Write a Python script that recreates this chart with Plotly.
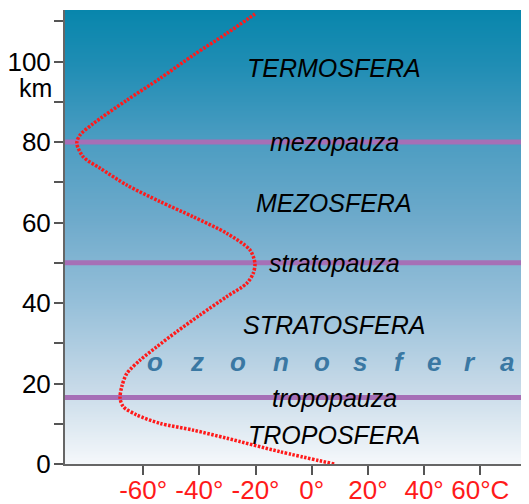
import plotly.graph_objects as go
import numpy as np

# Temperature profile (deg C) vs altitude (km)
temp_c = [8, -11.3, -30.2, -42.1, -54, -62.3, -67, -68.2, -67.6, -65.8, -61.1, -55.2, -48,
          -39.8, -30.2, -23.1, -20.8, -20.2, -22, -30.2, -42.1, -54, -65.8, -75.3, -81.3, -83.6,
          -82.5, -77.7, -65.8, -54, -42.1, -30.2, -20.2]
alt_km = [0, 3.06, 6.4, 8.4, 10.1, 12.2, 14.2, 16.3, 19.2, 22.5, 25.8, 29.1, 32.9,
          37.0, 41.6, 44.9, 47.4, 49.9, 53.2, 57.3, 61.4, 65.2, 69.3, 73.5, 76.3, 79.7,
          81.7, 84.6, 90.4, 95.8, 101.6, 107, 111.8]

# Boundaries (pauses)
pause_names = ["tropopauza", "stratopauza", "mezopauza"]
pause_km = [16.5, 50, 80]

# Layers
layer_names = ["TROPOSFERA", "STRATOSFERA", "MEZOSFERA", "TERMOSFERA"]
layer_km = [7.2, 34.5, 64.8, 98.4]

# Ozonosphere letters
ozone_letters = list("ozonosfera")
ozone_x = [-55.8, -40.9, -26.2, -11.0, 3.6, 17.2, 31.1, 43.5, 56.3, 69.5]
ozone_km = 25.3

x_ticks = [-60, -40, -20, 0, 20, 40, 60]
x_ticktext = ["-60°", "-40°", "-20°", "0°", "20°", "40°", "60°C"]
y_ticks = [0, 20, 40, 60, 80, 100]

x_range = [-87.8, 75.2]
y_range = [0, 112.8]

fig = go.Figure()

# Background gradient
ys = np.linspace(y_range[0], y_range[1], 120)
fig.add_trace(go.Heatmap(
    x=x_range, y=ys, z=[[v, v] for v in ys],
    colorscale=[[0.0, "#f5f8fb"], [0.18, "#c4d8e7"], [0.36, "#95bfd9"],
                [0.54, "#6eaacb"], [0.72, "#4a9cc1"], [0.88, "#1f8db4"], [1.0, "#0886ac"]],
    zmin=y_range[0], zmax=y_range[1], zsmooth="best", showscale=False, hoverinfo="skip"))

# Pause lines
for km in pause_km:
    fig.add_trace(go.Scatter(x=x_range, y=[km, km], mode="lines",
                             line=dict(color="#a66fb6", width=5), hoverinfo="skip", showlegend=False))

# Temperature curve
fig.add_trace(go.Scatter(x=temp_c, y=alt_km, mode="lines", line_shape="spline",
                         line=dict(color="#ff1a1a", width=3.5, dash="2.5px,1.5px", smoothing=0.8),
                         showlegend=False, hoverinfo="skip"))

ann = []
font_txt = dict(family="Liberation Sans, Arial", size=25, color="black")
for name, km in zip(layer_names, layer_km):
    ann.append(dict(x=8, y=km, xref="x", yref="y", text=f"<i>{name}</i>", showarrow=False, font=font_txt))
for name, km in zip(pause_names, pause_km):
    ann.append(dict(x=8, y=km, xref="x", yref="y", text=f"<i>{name}</i>", showarrow=False, font=font_txt))
for ch, xx in zip(ozone_letters, ozone_x):
    ann.append(dict(x=xx, y=ozone_km, xref="x", yref="y", text=f"<b><i>{ch}</i></b>", showarrow=False,
                    font=dict(family="Liberation Sans, Arial", size=26, color="#3a78a3")))
ann.append(dict(x=-0.024, y=93.5, xref="paper", yref="y", xanchor="right", text="km", showarrow=False,
                font=dict(family="Liberation Sans, Arial", size=25, color="black")))

fig.update_layout(
    width=521, height=496,
    margin=dict(l=57, r=6, t=2, b=40),
    paper_bgcolor="white", plot_bgcolor="white",
    annotations=ann,
    showlegend=False,
    xaxis=dict(range=x_range, showgrid=False, zeroline=False, tickvals=x_ticks, ticktext=x_ticktext,
               ticks="outside", ticklen=9, tickwidth=2, tickcolor="#555", showline=True,
               linecolor="#666", linewidth=2, automargin=False, ticklabelstandoff=-7,
               tickfont=dict(family="Liberation Sans, Arial", size=26, color="#ff1a1a")),
    yaxis=dict(range=y_range, showgrid=False, zeroline=False, tickvals=y_ticks,
               ticks="outside", ticklen=9, tickwidth=2, tickcolor="#555", showline=True,
               linecolor="#666", linewidth=2, automargin=False, ticklabelstandoff=-2,
               minor=dict(dtick=10, tick0=0, ticks="outside", ticklen=9, tickwidth=2, tickcolor="#555"),
               tickfont=dict(family="Liberation Sans, Arial", size=26, color="black")),
)

fig.write_html("out.html")
